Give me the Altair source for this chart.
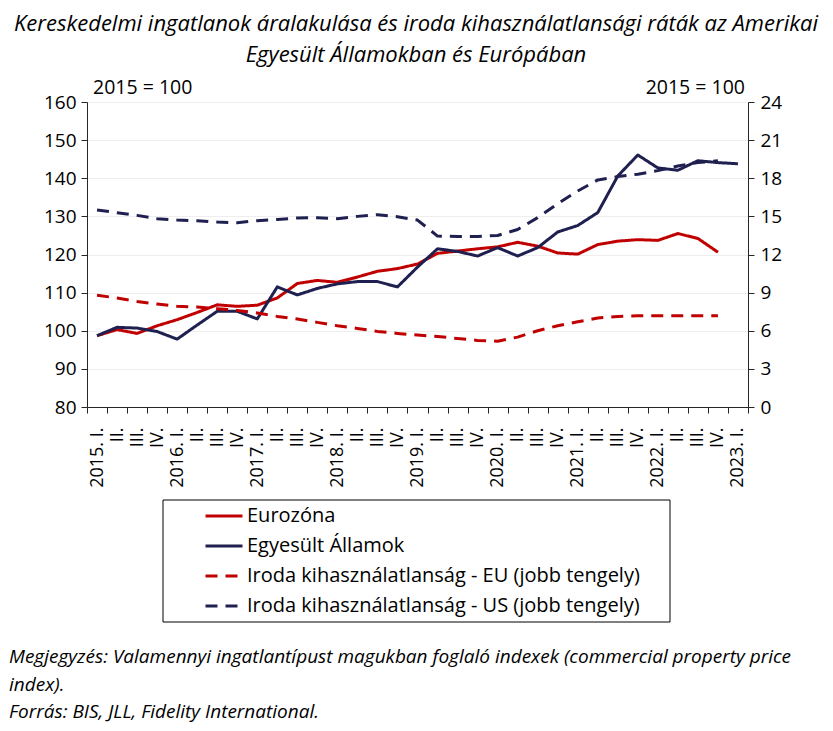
import altair as alt
import pandas as pd

FONT = "Open Sans"

quarters = [
    "2015. I.", "II.", "III.", "IV.",
    "2016. I.", "II. ", "III. ", "IV. ",
    "2017. I.", "II.  ", "III.  ", "IV.  ",
    "2018. I.", "II.   ", "III.   ", "IV.   ",
    "2019. I.", "II.    ", "III.    ", "IV.    ",
    "2020. I.", "II.     ", "III.     ", "IV.     ",
    "2021. I.", "II.      ", "III.      ", "IV.      ",
    "2022. I.", "II.       ", "III.       ", "IV.       ",
    "2023. I.",
]

eurozona = [98.7, 100.3, 99.3, 101.3, 102.9, 104.8, 106.8, 106.4, 106.7, 108.6,
            112.4, 113.2, 112.7, 114.1, 115.6, 116.3, 117.5, 120.3, 120.9, 121.5,
            122.0, 123.2, 122.2, 120.4, 120.1, 122.6, 123.5, 123.9, 123.7, 125.5,
            124.2, 120.6, None]

egyesult_allamok = [98.7, 100.9, 100.7, 99.8, 97.8, 101.5, 105.1, 105.1, 103.1, 111.5,
                    109.4, 111.1, 112.3, 112.9, 112.9, 111.5, 116.7, 121.5, 120.8, 119.6,
                    121.8, 119.6, 121.8, 125.9, 127.6, 131.0, 140.6, 146.1, 142.7, 142.1,
                    144.6, 144.1, 143.8]

iroda_eu = [8.79, 8.58, 8.31, 8.1, 7.92, 7.87, 7.74, 7.6, 7.4, 7.13,
            6.92, 6.66, 6.39, 6.18, 5.95, 5.79, 5.66, 5.55, 5.39, 5.24,
            5.18, 5.5, 6.0, 6.39, 6.71, 7.0, 7.13, 7.18, 7.18, 7.18,
            7.18, 7.18, None]

iroda_us = [15.5, 15.29, 15.08, 14.82, 14.71, 14.66, 14.55, 14.5, 14.66, 14.76,
            14.87, 14.9, 14.82, 15.0, 15.13, 14.97, 14.71, 13.45, 13.42, 13.42,
            13.5, 13.97, 14.9, 16.0, 17.0, 17.87, 18.13, 18.32, 18.6, 18.97,
            19.24, 19.37, None]

series_names = [
    "Eurozóna",
    "Egyesült Államok",
    "Iroda kihasználatlanság - EU (jobb tengely)",
    "Iroda kihasználatlanság - US (jobb tengely)",
]
series_colors = ["#c00000", "#1f2050", "#c00000", "#1f2050"]
series_dashes = [[1, 0], [1, 0], [12, 8], [12, 8]]

left_ticks = [80, 90, 100, 110, 120, 130, 140, 150, 160]
right_ticks = [0, 3, 6, 9, 12, 15, 18, 21, 24]

title_lines = [
    "Kereskedelmi ingatlanok áralakulása és iroda kihasználatlansági ráták az Amerikai",
    "Egyesült Államokban és Európában",
]
note_lines = [
    "Megjegyzés: Valamennyi ingatlantípust magukban foglaló indexek (commercial property price",
    "index).",
    "Forrás: BIS, JLL, Fidelity International.",
]
base_label = "2015 = 100"

rows = []
for name, vals, side in [
    (series_names[0], eurozona, "bal"),
    (series_names[1], egyesult_allamok, "bal"),
    (series_names[2], iroda_eu, "jobb"),
    (series_names[3], iroda_us, "jobb"),
]:
    for q, v in zip(quarters, vals):
        if v is not None:
            rows.append({"negyedev": q, "ertek": v, "sorozat": name, "oldal": side})
df = pd.DataFrame(rows)

W, H = 661, 305

x_enc = alt.X(
    "negyedev:N",
    sort=quarters,
    bandPosition=0.5,
    scale=alt.Scale(type="band", domain=quarters, paddingInner=0, paddingOuter=0),
    axis=alt.Axis(
        title=None, labelAngle=270, tickBand="extent", tickSize=6, labelPadding=14,
        labelFontSize=18, labelFont=FONT, labelColor="#000000", labelOverlap=False,
        labelAlign="right", labelBaseline="middle",
        domainColor="#262626", tickColor="#262626", grid=False,
    ),
)

legend = alt.Legend(
    title=None, orient="none", legendX=117, legendY=394, symbolType="stroke",
    symbolSize=1369, symbolStrokeWidth=3, labelFont=FONT, labelFontSize=20,
    labelColor="#000000", labelOffset=3, rowPadding=0, padding=0, labelLimit=600,
)
color_enc = alt.Color("sorozat:N", scale=alt.Scale(domain=series_names, range=series_colors), legend=legend)
dash_enc = alt.StrokeDash("sorozat:N", scale=alt.Scale(domain=series_names, range=series_dashes), legend=legend)

left = alt.Chart(df).transform_filter(alt.datum.oldal == "bal").mark_line(
    strokeWidth=3, strokeJoin="round"
).encode(
    x=x_enc,
    y=alt.Y(
        "ertek:Q",
        scale=alt.Scale(domain=[80, 160], nice=False, zero=False),
        axis=alt.Axis(
            title=None, values=left_ticks, orient="left", tickSize=6, labelPadding=5,
            labelFont=FONT, labelFontSize=19, labelColor="#000000",
            domainColor="#262626", tickColor="#262626", grid=True, gridColor="#eeeeee",
        ),
    ),
    color=color_enc,
    strokeDash=dash_enc,
)

right = alt.Chart(df).transform_filter(alt.datum.oldal == "jobb").mark_line(
    strokeWidth=3, strokeJoin="round"
).encode(
    x=x_enc,
    y=alt.Y(
        "ertek:Q",
        scale=alt.Scale(domain=[0, 24], nice=False, zero=False),
        axis=alt.Axis(
            title=None, values=right_ticks, orient="right", tickSize=6, labelPadding=6,
            labelFont=FONT, labelFontSize=19, labelColor="#000000",
            domainColor="#262626", tickColor="#262626", grid=False,
        ),
    ),
    color=color_enc,
    strokeDash=dash_enc,
)

def text_layer(txt, x, y, align="left", size=18, style="normal"):
    return alt.Chart(pd.DataFrame({"t": [txt]})).mark_text(
        align=align, baseline="middle", font=FONT, fontSize=size, fontStyle=style, color="#000000"
    ).encode(text="t:N", x=alt.value(x), y=alt.value(y))

texts = [
    text_layer(title_lines[0], 329, -78, align="center", size=22, style="italic"),
    text_layer(title_lines[1], 329, -47, align="center", size=22, style="italic"),
    text_layer(base_label, 6, -14, size=19.5),
    text_layer(base_label, 658, -14, align="right", size=19.5),
    text_layer(note_lines[0], -78, 555, size=19, style="italic"),
    text_layer(note_lines[1], -78, 583, size=19, style="italic"),
    text_layer(note_lines[2], -78, 610, size=19, style="italic"),
]

box = alt.Chart(pd.DataFrame({"b": [0]})).mark_rect(
    fillOpacity=0, stroke="#000000", strokeWidth=1
).encode(x=alt.value(76), x2=alt.value(583), y=alt.value(398), y2=alt.value(520))

lines = alt.layer(left, right).resolve_scale(y="independent")

chart = alt.layer(lines, box, *texts).properties(
    width=W, height=H,
    autosize=alt.AutoSizeParams(type="none"),
    padding={"left": 79, "top": 94, "right": 77, "bottom": 318},
).configure_view(stroke="#595959", strokeWidth=1).configure(background="white")

chart.save("out.html", embed_options={"renderer": "svg", "actions": False})
